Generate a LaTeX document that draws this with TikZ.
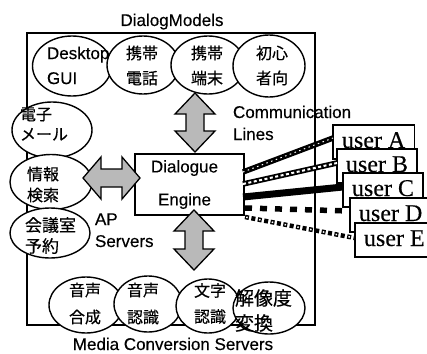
\documentclass[tikz,border=0pt]{standalone}
\usepackage{fontspec}
\setmainfont{Liberation Sans}[FakeBold=0.3]
\newfontfamily\jpfont{Noto Sans CJK JP}[FakeBold=0.4]
\newfontfamily\tmsfont{Liberation Serif}[FakeBold=0.3]
\usetikzlibrary{calc,shapes.geometric}
\newcommand\myFatV[2]{\draw[fat] (#1) -- ($(#1)+(20,21)$) -- ($(#1)+(9,21)$) -- ($(#2)+(9,-21)$) -- ($(#2)+(20,-21)$) -- (#2) -- ($(#2)+(-20,-21)$) -- ($(#2)+(-9,-21)$) -- ($(#1)+(-9,21)$) -- ($(#1)+(-20,21)$) -- cycle;}
\newcommand\myFatH[2]{\draw[fat] (#1) -- ($(#1)+(18,-21)$) -- ($(#1)+(18,-9)$) -- ($(#2)+(-18,-9)$) -- ($(#2)+(-18,-21)$) -- (#2) -- ($(#2)+(-18,21)$) -- ($(#2)+(-18,9)$) -- ($(#1)+(18,9)$) -- ($(#1)+(18,21)$) -- cycle;}
\begin{document}
\begin{tikzpicture}[x=1pt,y=-1pt,
  every node/.style={inner sep=0pt, outer sep=0pt},
  lab/.style={font=\fontsize{17}{25}\selectfont},
  jp/.style={font=\jpfont\fontsize{16}{25}\selectfont, align=center},
  ell/.style={shape=ellipse, draw, fill=white, line width=1.4pt},
  outerbox/.style={draw, line width=1.4pt},
  fat/.style={draw, line width=1.3pt, fill=gray!55, line join=miter},
  user/.style={draw, fill=white, line width=1.3pt, anchor=north west, minimum height=34pt, inner xsep=9pt, text height=16pt, text depth=4pt, font=\tmsfont\fontsize{24}{26}\selectfont},
  lineA/.style={line width=5.5pt, postaction={draw=white, line width=1pt, dash pattern=on 1.5pt off 3.5pt}},
  lineB/.style={line width=5.5pt, postaction={draw=white, line width=2pt, dash pattern=on 3pt off 2.5pt}},
  lineC/.style={line width=7pt},
  lineD/.style={line width=5.5pt, dash pattern=on 7pt off 8pt},
  lineE/.style={line width=4.5pt, dash pattern=on 4pt off 2.5pt, postaction={draw=white, line width=1.5pt, dash pattern=on 1.5pt off 11.5pt, dash phase=-1.25pt}}
]
\useasboundingbox (0,0) rectangle (427,353);
\clip (0,0) rectangle (427,353);
\fill[white] (0,0) rectangle (427,353);

% outer frame
\node[outerbox, minimum width=288pt, minimum height=292pt, anchor=north west] (frame) at (27,33) {};

% ellipses
\node[ell, minimum width=79pt, minimum height=60pt] (gui) at (72,66) {};
\node[ell, minimum width=72pt, minimum height=58pt] (phone) at (143,65) {};
\node[ell, minimum width=74pt, minimum height=58pt] (term) at (208,65) {};
\node[ell, minimum width=72pt, minimum height=62pt] (novice) at (269,66) {};
\node[ell, minimum width=80pt, minimum height=56pt] (mail) at (52,130) {};
\node[ell, minimum width=82pt, minimum height=55pt] (search) at (51,182) {};
\node[ell, minimum width=80pt, minimum height=50pt] (room) at (50,233) {};
\node[ell, minimum width=74pt, minimum height=56pt] (synth) at (86,305) {};
\node[ell, minimum width=68pt, minimum height=56pt] (recog) at (148,304) {};
\node[ell, minimum width=64pt, minimum height=54pt] (ocr) at (208,306) {};
\node[ell, minimum width=72pt, minimum height=52pt] (resol) at (269,308) {};

% ellipse texts
\node[lab, anchor=west, align=left] (guiT) at (47,65.5) {Desktop\\GUI};
\node[jp] (phoneT) at (142,65.5) {携帯\\電話};
\node[jp] (termT) at (207,65.5) {携帯\\端末};
\node[jp] (noviceT) at (272,65.5) {初心\\者向};
\node[jp, anchor=west, align=left, font=\jpfont\fontsize{16}{20}\selectfont] (mailT) at (20,124) {電子\\メール};
\node[jp, anchor=west, align=left, font=\jpfont\fontsize{16}{21}\selectfont] (searchT) at (27,184.5) {情報\\検索};
\node[jp, anchor=west, align=left, font=\jpfont\fontsize{17}{21}\selectfont] (roomT) at (25,235.5) {会議室\\予約};
\node[jp, font=\jpfont\fontsize{16}{27}\selectfont] (synthT) at (85,303.5) {音声\\合成};
\node[jp, font=\jpfont\fontsize{16}{27}\selectfont] (recogT) at (143,303.5) {音声\\認識};
\node[jp, font=\jpfont\fontsize{16}{26}\selectfont] (ocrT) at (210,303.5) {文字\\認識};
\node[jp, anchor=west, align=left, font=\jpfont\fontsize{19}{25}\selectfont] (resolT) at (235,310.5) {解像度\\変換};

% labels
\node[lab, anchor=base] (dm) at (172,26) {DialogModels};
\node[lab, anchor=base] (mcs) at (173,350) {Media Conversion Servers};
\node[lab, anchor=base west] (comm1) at (233,118) {Communication};
\node[lab, anchor=base west] (comm2) at (233,140) {Lines};
\node[lab, anchor=base west] (ap1) at (95,225) {AP};
\node[lab, anchor=base west] (ap2) at (95,247) {Servers};

% engine
\node[draw, line width=1.3pt, fill=white, minimum width=109pt, minimum height=61pt] (eng) at (189.5,184.5) {};
\node[align=center, font=\fontsize{17}{33}\selectfont] (engT) at (184.5,184.5) {Dialogue\\Engine};

% fat double arrows
\coordinate (tA1) at (195,93);
\coordinate (tA2) at (195,152);
\coordinate (lA1) at (83,178);
\coordinate (lA2) at (140,178);
\coordinate (bA1) at (194,210);
\coordinate (bA2) at (194,270);
\myFatV{tA1}{tA2}
\myFatH{lA1}{lA2}
\myFatV{bA1}{bA2}

% user boxes
\node[user] (uA) at (333,125) {user A};
\node[user] (uB) at (337,149) {user B};
\node[user] (uC) at (343,173) {user C};
\node[user] (uD) at (350,198) {user D};
\node[user] (uE) at (355,223) {user E};

% communication lines
\draw[lineA] ($(eng.north east)+(-1,18)$) -- ($(uA.north west)+(0,13)$);
\draw[lineB] ($(eng.north east)+(-1,30)$) -- ($(uB.north west)+(0,14)$);
\draw[lineC] ($(eng.north east)+(-1,43)$) -- ($(uC.north west)+(0,14)$);
\draw[lineD] ($(eng.north east)+(1,54)$) -- ($(uD.north west)+(0,13)$);
\draw[lineE] ($(eng.north east)+(1,63)$) -- ($(uE.north west)+(0,15)$);
\end{tikzpicture}
\end{document}
